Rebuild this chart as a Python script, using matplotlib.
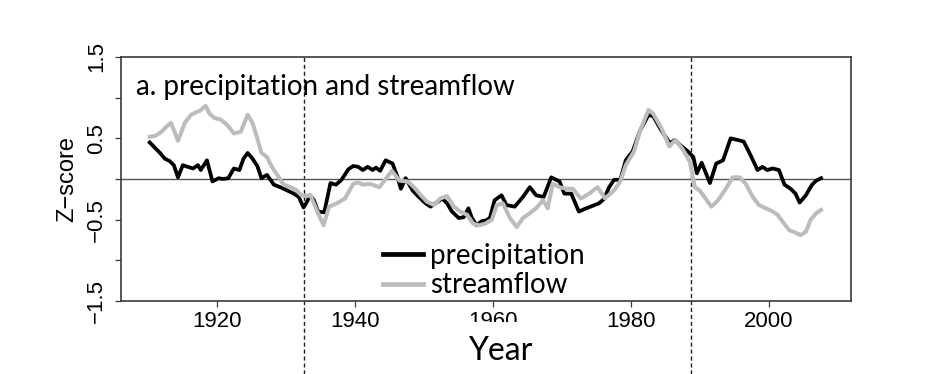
import matplotlib
matplotlib.use('Agg')
import matplotlib.pyplot as plt
import matplotlib.transforms as mtransforms
from matplotlib.lines import Line2D
from matplotlib.patches import Rectangle
import numpy as np

# values (z-scores of smoothed series)
precipYears = np.array([
    1910.3, 1911.1, 1911.8, 1912.5, 1913.2, 1913.8, 1914.4, 1915.1, 1915.8, 1916.6,
    1917.3, 1917.7, 1918.6, 1919.4, 1920.3, 1920.9, 1921.7, 1922.5, 1923.3, 1923.9,
    1924.5, 1925.2, 1925.9, 1926.5, 1927.3, 1928.3, 1929.2, 1930.2, 1931.2, 1931.9,
    1932.6, 1933.1, 1933.5, 1934.1, 1934.7, 1935.6, 1936.5, 1937.3, 1938.1, 1939.1,
    1939.8, 1940.5, 1941.2, 1941.9, 1942.6, 1943.1, 1943.7, 1944.5, 1945.5, 1946.2,
    1946.7, 1947.4, 1948.4, 1949.3, 1950.3, 1951.0, 1951.7, 1952.7, 1953.4, 1954.1,
    1955.1, 1955.8, 1956.5, 1957.0, 1957.7, 1958.4, 1959.0, 1959.6, 1960.3, 1961.3,
    1962.0, 1963.2, 1964.4, 1965.4, 1966.3, 1967.4, 1968.5, 1969.7, 1970.4, 1971.4,
    1972.5, 1973.3, 1974.2, 1975.4, 1976.1, 1976.9, 1977.6, 1978.5, 1979.3, 1980.3,
    1981.4, 1982.6, 1983.3, 1984.3, 1985.2, 1985.7, 1986.4, 1987.4, 1988.3, 1989.1,
    1989.6, 1990.3, 1991.5, 1992.4, 1993.4, 1994.5, 1995.5, 1996.4, 1997.4, 1998.4,
    1999.1, 1999.8, 2000.6, 2001.5, 2002.3, 2003.2, 2003.9, 2004.5, 2005.4, 2006.3,
    2006.9, 2007.6])
precip = np.array([
    0.45, 0.38, 0.32, 0.25, 0.22, 0.17, 0.02, 0.17, 0.15, 0.13,
    0.17, 0.11, 0.23, -0.03, 0.01, 0.00, 0.01, 0.13, 0.11, 0.25,
    0.32, 0.25, 0.16, 0.01, 0.05, -0.07, -0.10, -0.14, -0.18, -0.22,
    -0.35, -0.28, -0.20, -0.26, -0.40, -0.41, -0.05, -0.07, -0.01, 0.12,
    0.16, 0.15, 0.11, 0.15, 0.11, 0.14, 0.10, 0.23, 0.19, 0.03,
    -0.12, 0.01, -0.14, -0.22, -0.30, -0.34, -0.30, -0.24, -0.30, -0.40,
    -0.48, -0.47, -0.36, -0.48, -0.57, -0.52, -0.51, -0.48, -0.26, -0.20,
    -0.32, -0.34, -0.22, -0.10, -0.20, -0.22, 0.02, -0.03, -0.18, -0.18,
    -0.40, -0.37, -0.34, -0.30, -0.25, -0.10, -0.01, -0.01, 0.23, 0.34,
    0.60, 0.79, 0.77, 0.62, 0.50, 0.44, 0.48, 0.40, 0.34, 0.27,
    0.07, 0.20, -0.05, 0.19, 0.23, 0.50, 0.48, 0.46, 0.29, 0.11,
    0.15, 0.11, 0.13, 0.11, -0.07, -0.12, -0.18, -0.29, -0.20, -0.07,
    -0.02, 0.01])

flowYears = np.array([
    1910.3, 1911.1, 1912.0, 1912.7, 1913.4, 1914.4, 1915.4, 1916.3, 1917.0, 1917.6,
    1918.4, 1919.0, 1919.7, 1920.6, 1921.6, 1922.5, 1923.5, 1924.5, 1925.2, 1925.9,
    1926.5, 1927.3, 1928.0, 1928.8, 1929.7, 1930.7, 1931.6, 1932.3, 1933.1, 1933.6,
    1934.5, 1935.5, 1936.3, 1937.4, 1938.6, 1939.8, 1940.5, 1941.2, 1942.2, 1942.9,
    1943.6, 1944.5, 1945.4, 1946.5, 1947.7, 1948.6, 1949.6, 1950.5, 1951.5, 1952.4,
    1953.4, 1954.4, 1955.3, 1956.3, 1957.2, 1958.0, 1958.9, 1959.9, 1960.6, 1961.5,
    1962.5, 1963.5, 1964.4, 1965.4, 1966.3, 1967.3, 1968.0, 1968.7, 1969.7, 1970.6,
    1971.6, 1972.8, 1974.0, 1975.2, 1976.3, 1977.6, 1978.5, 1979.3, 1980.0, 1980.5,
    1981.4, 1982.6, 1983.3, 1984.5, 1985.6, 1986.5, 1987.6, 1988.6, 1989.3, 1990.0,
    1990.7, 1991.7, 1992.6, 1993.8, 1994.8, 1995.8, 1996.7, 1997.7, 1998.6, 1999.6,
    2000.6, 2001.3, 2002.0, 2003.0, 2003.9, 2004.6, 2005.4, 2006.1, 2006.9, 2007.6])
flow = np.array([
    0.52, 0.53, 0.58, 0.64, 0.69, 0.47, 0.69, 0.79, 0.82, 0.84,
    0.90, 0.80, 0.75, 0.73, 0.66, 0.56, 0.58, 0.79, 0.69, 0.50,
    0.32, 0.27, 0.15, 0.05, -0.07, -0.10, -0.14, -0.20, -0.21, -0.20,
    -0.38, -0.57, -0.34, -0.30, -0.24, -0.06, -0.04, -0.07, -0.06, -0.08,
    -0.10, 0.00, 0.10, -0.02, -0.03, -0.10, -0.20, -0.28, -0.32, -0.24,
    -0.21, -0.34, -0.40, -0.44, -0.55, -0.57, -0.55, -0.50, -0.32, -0.30,
    -0.48, -0.59, -0.48, -0.42, -0.36, -0.26, -0.36, -0.06, -0.10, -0.12,
    -0.12, -0.24, -0.18, -0.10, -0.24, -0.14, -0.03, 0.17, 0.27, 0.34,
    0.60, 0.85, 0.80, 0.62, 0.40, 0.48, 0.36, 0.21, -0.10, -0.14,
    -0.22, -0.34, -0.27, -0.12, 0.02, 0.02, -0.06, -0.22, -0.32, -0.36,
    -0.40, -0.44, -0.52, -0.63, -0.66, -0.69, -0.65, -0.50, -0.42, -0.38])

breakYears = [1932.6, 1988.7]
xTicks = [1920, 1940, 1960, 1980, 2000]
yTicks = [-1.5, -0.5, 0.5, 1.5]
yTickLabels = ['\u22121.5', '\u22120.5', '0.5', '1.5']
yMinor = [-1.0, 0.0, 1.0]

plt.rcParams['font.family'] = ['Liberation Sans', 'DejaVu Sans']

W, H = 952, 374
fig = plt.figure(figsize=(W / 100, H / 100), dpi=100)
axL, axR, axT, axB = 120.7, 850.7, 57, 301
ax = fig.add_axes([axL / W, 1 - axB / H, (axR - axL) / W, (axB - axT) / H])
ax.patch.set_visible(False)

ax.axhline(0, color='#555555', lw=1.0, zorder=1)
ax.plot(precipYears, precip, color='black', lw=2.7, label='precipitation', zorder=2)
ax.plot(flowYears, flow, color='#bcbcbc', lw=2.9, label='streamflow', zorder=3)

ax.set_xlim(1906.1, 2011.9)
ax.set_ylim(-1.5, 1.5)
ax.set_xticks(xTicks)
ax.set_yticks(yTicks)
ax.set_yticklabels(yTickLabels)
ax.set_yticks(yMinor, minor=True)

for s in ax.spines.values():
    s.set_color('#3a3a3a')
    s.set_linewidth(1.2)
ax.tick_params(which='both', direction='out', length=4.5, width=0.9, color='#3a3a3a')
ax.tick_params(axis='x', pad=3.0, labelsize=16)
ax.tick_params(axis='y', pad=5.5, labelsize=16, labelrotation=90)
for lab in ax.get_yticklabels():
    lab.set_va('center')

ax.set_ylabel('Z\u2212score', fontsize=17)
ax.yaxis.set_label_coords((78 - axL) / (axR - axL), 0.5)

ax.text((136 - axL) / (axR - axL), (axB - 95) / (axB - axT), 'a. precipitation and streamflow',
        transform=ax.transAxes, fontsize=20, family='Lato', va='baseline')

leg = ax.legend(loc='upper left', bbox_to_anchor=(383 / W, 1 - 243 / H),
                bbox_transform=fig.transFigure, frameon=False, borderpad=0,
                borderaxespad=0, handlelength=1.45, handletextpad=0.26,
                labelspacing=0.12, prop={'family': 'Lato', 'size': 20})
for ln in leg.get_lines():
    ln.set_linewidth(3.4)

# dashed period boundaries run past the plot down to the page edge
trans = mtransforms.blended_transform_factory(ax.transData, fig.transFigure)
for yr in breakYears:
    fig.add_artist(Line2D([yr, yr], [0, 1 - axT / H], transform=trans, color='#222222',
                          lw=1.0, ls=(0, (3, 2)), zorder=-1))

# white box behind the axis title (it clips the 1960 label)
fig.add_artist(Rectangle((440 / W, 0), 120 / W, (H - 322) / H, transform=fig.transFigure,
                         facecolor='white', edgecolor='none', zorder=1))
fig.text(500 / W, 1 - 360 / H, 'Year', ha='center', va='baseline', fontsize=23,
         family='Lato', zorder=2)

fig.savefig('out.png', dpi=100)
